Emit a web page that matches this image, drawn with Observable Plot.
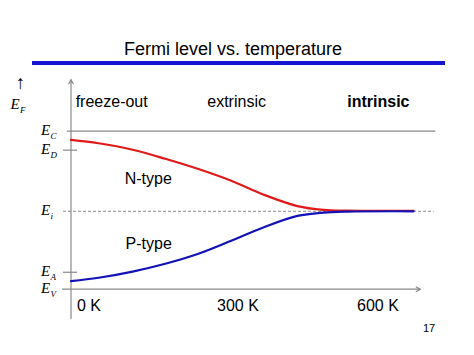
<!DOCTYPE html>
<html><head><meta charset="utf-8">
<script src="https://cdn.jsdelivr.net/npm/d3@7"></script>
<script src="https://cdn.jsdelivr.net/npm/@observablehq/plot@0.6"></script>
<style>
body{margin:0;background:#fff;}
#wrap{position:relative;width:474px;height:355px;overflow:hidden;font-family:"Liberation Sans",Arial,sans-serif;background:#fff;}
#head{position:relative;height:72px;}
#title{position:absolute;left:0;top:40px;width:466px;text-align:center;font-size:18px;line-height:18px;color:#000;}
#bar{position:absolute;left:32px;top:61px;width:413px;height:4px;background:#1414d2;}
#page{position:absolute;left:423px;top:323px;font-size:11px;line-height:11px;color:#000;}
svg{display:block;overflow:visible;}
</style></head><body>
<div id="wrap">
  <div id="head"><div id="title">Fermi level vs. temperature</div><div id="bar"></div></div>
  <div id="chart"></div>
  <div id="page">17</div>
</div>
<script>
// Temperature samples (K) and Fermi level (eV above E_V)
const temperature = [0, 59, 132, 202, 273, 342, 412, 485, 541, 592, 734];
const nTypeLevel  = [1.058, 1.034, 0.988, 0.924, 0.851, 0.770, 0.671, 0.589, 0.562, 0.556, 0.555];
const pTypeLevel  = [0.057, 0.081, 0.125, 0.180, 0.251, 0.341, 0.437, 0.519, 0.543, 0.550, 0.552];

// Energy levels (eV)
const levelNames  = ["C", "D", "i", "A", "V"];
const levelValues = [1.12, 0.985, 0.552, 0.12, 0];

// Temperature tick labels
const tickTemps  = [0, 300, 600];
const tickLabels = ["0 K", "300 K", "600 K"];

// Regime labels (last one is emphasised)
const regimeNames = ["freeze-out", "extrinsic", "intrinsic"];
const regimeTemps = [10, 292, 592];

// Curve labels
const curveNames  = ["N-type", "P-type"];
const curveTemps  = [115, 117];
const curveLevels = [0.742, 0.286];

const nData = temperature.map((t, i) => ({t, e: nTypeLevel[i]}));
const pData = temperature.map((t, i) => ({t, e: pTypeLevel[i]}));
const levels = levelNames.map((name, i) => ({name, value: levelValues[i]}));
const lv = Object.fromEntries(levels.map(d => [d.name, d.value]));
const ticks = tickTemps.map((t, i) => ({t, label: tickLabels[i]}));
const regimes = regimeNames.map((name, i) => ({name, t: regimeTemps[i]}));
const curveLab = curveNames.map((name, i) => ({name, t: curveTemps[i], e: curveLevels[i]}));

const gray = "#8a8a8a";
const red = "#e01a1a";
const blue = "#1212b8";
const serif = "'Liberation Serif', 'Times New Roman', serif";

const chart = Plot.plot({
  width: 474,
  height: 283,
  marginLeft: 70.5,
  marginRight: 53.5,
  marginTop: 58.6,
  marginBottom: 66.3,
  x: {domain: [0, 750], axis: null},
  y: {domain: [0, 1.12], axis: null},
  style: {fontFamily: "'Liberation Sans', Arial, sans-serif", background: "white", color: "black"},
  marks: [
    Plot.ruleY([lv.C], {x1: -8, x2: 782, stroke: gray, strokeWidth: 1.2}),
    Plot.ruleY([lv.D, lv.A], {x1: -16, x2: 14, stroke: gray, strokeWidth: 1.2}),
    Plot.ruleY([lv.i], {x1: -16, x2: 778, stroke: gray, strokeWidth: 1, strokeDasharray: "3,2"}),
    Plot.arrow([0], {x1: 0, x2: 0, y1: -0.208, y2: 1.486, stroke: gray, strokeWidth: 1.2, headLength: 6, headAngle: 55}),
    Plot.arrow([0], {x1: -18, x2: 749, y1: lv.V, y2: lv.V, stroke: gray, strokeWidth: 1.2, headLength: 6, headAngle: 55}),
    Plot.line(nData, {x: "t", y: "e", stroke: red, strokeWidth: 2.2, curve: "catmull-rom"}),
    Plot.line(pData, {x: "t", y: "e", stroke: blue, strokeWidth: 2.2, curve: "catmull-rom"}),
    Plot.text(levels, {x: 0, y: "value", text: () => "E", dx: -30, dy: 4, textAnchor: "start", lineAnchor: "bottom", fontFamily: serif, fontStyle: "italic", fontSize: 15}),
    Plot.text(levels, {x: 0, y: "value", text: "name", dx: -20.5, dy: 8, textAnchor: "start", lineAnchor: "bottom", fontFamily: serif, fontStyle: "italic", fontSize: 9}),
    Plot.text(["↑"], {frameAnchor: "top-left", text: d => d, dx: -50.5, dy: -42.6, textAnchor: "middle", lineAnchor: "bottom", fontSize: 19, fontFamily: serif}),
    Plot.text(["E"], {frameAnchor: "top-left", text: d => d, dx: -60.5, dy: -22.6, textAnchor: "start", lineAnchor: "bottom", fontSize: 15, fontFamily: serif, fontStyle: "italic"}),
    Plot.text(["F"], {frameAnchor: "top-left", text: d => d, dx: -51, dy: -18.6, textAnchor: "start", lineAnchor: "bottom", fontSize: 9, fontFamily: serif, fontStyle: "italic"}),
    Plot.text(ticks, {x: "t", y: -0.151, text: "label", dx: 6, textAnchor: "start", lineAnchor: "bottom", fontSize: 16}),
    Plot.text(regimes.slice(0, 2), {x: "t", y: 1.289, text: "name", textAnchor: "start", lineAnchor: "bottom", fontSize: 16}),
    Plot.text(regimes.slice(2), {x: "t", y: 1.289, text: "name", textAnchor: "start", lineAnchor: "bottom", fontSize: 16, fontWeight: "bold"}),
    Plot.text(curveLab, {x: "t", y: "e", text: "name", textAnchor: "start", lineAnchor: "bottom", fontSize: 16})
  ]
});
document.getElementById("chart").appendChild(chart);
</script>
</body></html>
